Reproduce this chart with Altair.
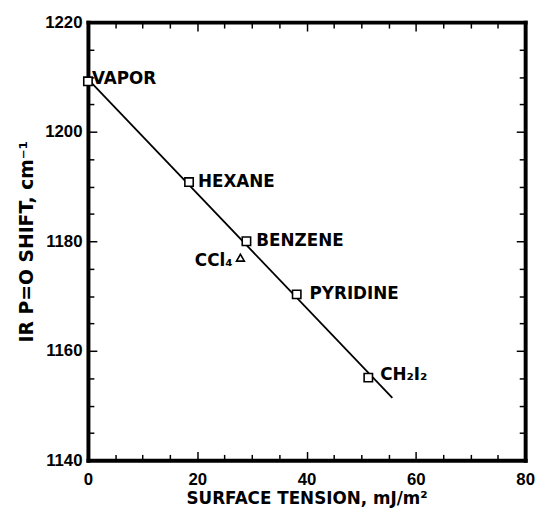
import altair as alt
import pandas as pd

# Data
names = ["VAPOR", "HEXANE", "BENZENE", "PYRIDINE", "CH₂I₂"]
tension = [0.0, 18.5, 29.0, 38.2, 51.3]
shift = [1209.2, 1190.8, 1180.0, 1170.3, 1155.1]

ccl4_name = ["CCl₄"]
ccl4_tension = [27.9]
ccl4_shift = [1177.0]

line_tension = [0.0, 55.7]
line_shift = [1209.6, 1151.4]

x_ticks = list(range(0, 81, 5))
y_ticks = list(range(1140, 1221, 5))

FONT = "DejaVu Sans"
NUMFONT = "Liberation Sans"

pts = pd.DataFrame({"name": names, "x": tension, "y": shift,
                    "dx": [4, 9, 10, 13, 12], "dy": [-2, 0, 0, 0, -3]})
cc = pd.DataFrame({"name": ccl4_name, "x": ccl4_tension, "y": ccl4_shift})
ln = pd.DataFrame({"x": line_tension, "y": line_shift})

xscale = alt.Scale(domain=[0, 80], nice=False, zero=False)
yscale = alt.Scale(domain=[1140, 1220], nice=False, zero=False)

major_tick = {"condition": {"test": "datum.value % 20 === 0", "value": -9}, "value": -6}
DW = 4

x_axis = alt.Axis(
    values=x_ticks, format="d", labelExpr="datum.value % 20 === 0 ? datum.label : ''",
    grid=False, domainWidth=DW, domainColor="black", domainCap="square",
    tickColor="black", tickWidth=1.5, tickSize=major_tick,
    labelPadding=20, labelFlush=False, labelOverlap=False,
    labelFont=NUMFONT, labelFontSize=17, labelFontWeight="bold", labelColor="black",
    title="SURFACE TENSION, mJ/m²", titleFont=FONT, titleFontSize=17,
    titleFontWeight="bold", titleColor="black", titlePadding=1,
)
y_axis = alt.Axis(
    values=y_ticks, format="d", labelExpr="datum.value % 20 === 0 ? datum.label : ''",
    grid=False, domainWidth=DW, domainColor="black", domainCap="square",
    tickColor="black", tickWidth=1.5, tickSize=major_tick,
    labelPadding=15, labelFlush=False, labelOverlap=False,
    labelFont=NUMFONT, labelFontSize=17, labelFontWeight="bold", labelColor="black",
    title="IR P=O SHIFT, cm⁻¹", titleFont=FONT, titleFontSize=19,
    titleFontWeight="bold", titleColor="black", titlePadding=8,
)
x_top = alt.Axis(orient="top", values=x_ticks, labels=False, title=None, grid=False,
                 domainWidth=DW, domainColor="black", domainCap="square",
                 tickColor="black", tickWidth=1.5, tickSize=major_tick)
y_right = alt.Axis(orient="right", values=y_ticks, labels=False, title=None, grid=False,
                   domainWidth=DW, domainColor="black", domainCap="square",
                   tickColor="black", tickWidth=1.5, tickSize=major_tick)

def xy():
    return dict(x=alt.X("x:Q", scale=xscale, axis=None),
                y=alt.Y("y:Q", scale=yscale, axis=None))

line = alt.Chart(ln).mark_line(color="black", strokeWidth=1.8).encode(
    x=alt.X("x:Q", scale=xscale, axis=x_axis),
    y=alt.Y("y:Q", scale=yscale, axis=y_axis),
)

frame = alt.Chart(ln).mark_point(opacity=0).encode(
    x=alt.X("x:Q", scale=xscale, axis=x_top),
    y=alt.Y("y:Q", scale=yscale, axis=y_right),
)

squares = alt.Chart(pts).mark_point(shape="square", filled=True, fill="white",
                                     stroke="black", strokeWidth=1.6, size=72,
                                     opacity=1).encode(**xy())

tri = alt.Chart(cc).mark_point(shape="triangle-up", filled=True, fill="white",
                                stroke="black", strokeWidth=1.6, size=64,
                                opacity=1).encode(**xy())

labels = []
for i, n in enumerate(names):
    d = pts.iloc[[i]]
    labels.append(
        alt.Chart(d).mark_text(align="left", baseline="middle", font=FONT, fontSize=17,
                               fontWeight="bold", color="black",
                               dx=int(pts.dx[i]), dy=int(pts.dy[i])).encode(
            text="name:N", **xy())
    )

cclabel = alt.Chart(cc).mark_text(align="right", baseline="middle", font=FONT, fontSize=17,
                                  fontWeight="bold", color="black", dx=-8, dy=3).encode(
    text="name:N", **xy())

chart = alt.layer(line, frame, squares, tri, cclabel, *labels).resolve_axis(
    x="independent", y="independent"
).properties(
    width=443, height=444,
    autosize=alt.AutoSizeParams(type="none"),
    padding={"left": 81, "top": 11, "right": 12, "bottom": 49},
    background="white",
).configure_view(stroke=None)

chart.save("out.html", embed_options={"renderer": "svg", "actions": False})
